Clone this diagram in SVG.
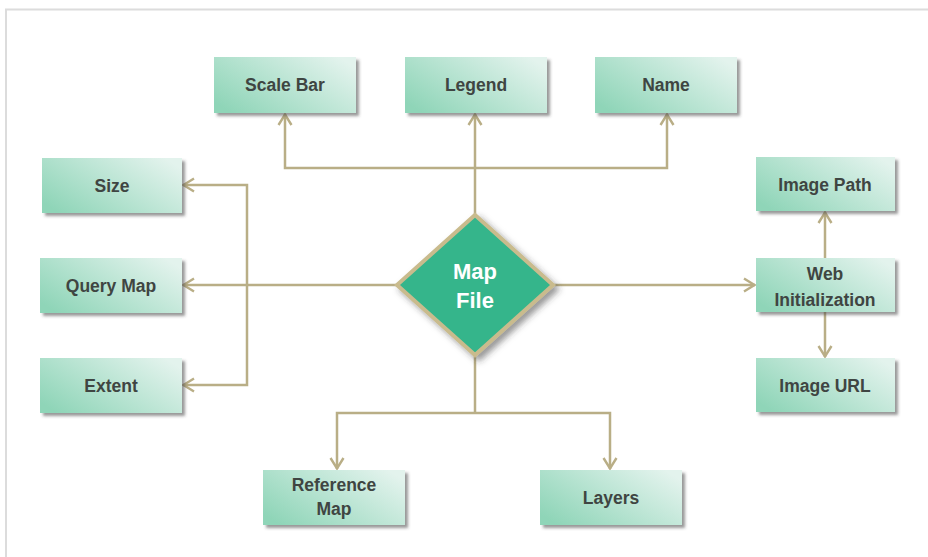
<svg xmlns="http://www.w3.org/2000/svg" width="928" height="557" viewBox="0 0 928 557">
<defs>
<linearGradient id="boxg" x1="0" y1="0.8" x2="1" y2="0.2">
<stop offset="0" stop-color="#8fd5b8"/>
<stop offset="1" stop-color="#e3f3ed"/>
</linearGradient>
<filter id="sh" x="-10%" y="-10%" width="130%" height="140%">
<feDropShadow dx="3" dy="3" stdDeviation="1.8" flood-color="#444" flood-opacity="0.55"/>
</filter>
<filter id="dsh" x="-10%" y="-10%" width="130%" height="130%">
<feDropShadow dx="4" dy="4" stdDeviation="3" flood-color="#333" flood-opacity="0.5"/>
</filter>
<marker id="arr" viewBox="0 0 14 16" refX="13" refY="8" markerWidth="14" markerHeight="16" markerUnits="userSpaceOnUse" orient="auto-start-reverse">
<path d="M2,1.5 L12.5,8 L2,14.5" fill="none" stroke="#b9ae86" stroke-width="2.4"/>
</marker>
<style>
.box{fill:url(#boxg);filter:url(#sh);}
.lbl{font-family:"Liberation Sans",Arial,sans-serif;font-size:17.5px;font-weight:bold;fill:#3f4542;text-anchor:middle;}
.dl{font-family:"Liberation Sans",Arial,sans-serif;font-size:22px;font-weight:bold;fill:#ffffff;text-anchor:middle;}
.c{fill:none;stroke:#b9ae86;stroke-width:2.5;}
</style>
</defs>
<rect x="0" y="0" width="928" height="557" fill="#ffffff"/>
<path d="M6,557 V9.5 H928" fill="none" stroke="#dcdcdc" stroke-width="2"/>

<g id="connectors">
<path class="c" d="M475,215 V114" marker-end="url(#arr)"/>
<path class="c" d="M285,114 V168 H667 V114" marker-start="url(#arr)" marker-end="url(#arr)"/>
<path class="c" d="M397,285 H183" marker-end="url(#arr)"/>
<path class="c" d="M183,185 H247 V385 H183" marker-start="url(#arr)" marker-end="url(#arr)"/>
<path class="c" d="M553,285 H755" marker-end="url(#arr)"/>
<path class="c" d="M825,258 V212" marker-end="url(#arr)"/>
<path class="c" d="M825,312 V357" marker-end="url(#arr)"/>
<path class="c" d="M475,355 V413"/>
<path class="c" d="M337,469 V413 H610 V469" marker-start="url(#arr)" marker-end="url(#arr)"/>
</g>

<g id="scale-bar"><rect class="box" x="214" y="57" width="142" height="56"/><text class="lbl" x="285" y="91">Scale Bar</text></g>
<g id="legend"><rect class="box" x="405" y="57" width="142" height="56"/><text class="lbl" x="476" y="91">Legend</text></g>
<g id="name"><rect class="box" x="595" y="57" width="142" height="56"/><text class="lbl" x="666" y="91">Name</text></g>
<g id="size"><rect class="box" x="42" y="158" width="140" height="55"/><text class="lbl" x="112" y="192">Size</text></g>
<g id="query-map"><rect class="box" x="40" y="258" width="142" height="55"/><text class="lbl" x="111" y="292">Query Map</text></g>
<g id="extent"><rect class="box" x="40" y="358" width="142" height="55"/><text class="lbl" x="111" y="392">Extent</text></g>
<g id="image-path"><rect class="box" x="756" y="157" width="139" height="54"/><text class="lbl" x="825" y="191">Image Path</text></g>
<g id="web-initialization"><rect class="box" x="756" y="258" width="139" height="54"/><text class="lbl" x="825" y="280">Web</text><text class="lbl" x="825" y="306">Initialization</text></g>
<g id="image-url"><rect class="box" x="756" y="358" width="139" height="54"/><text class="lbl" x="825" y="392">Image URL</text></g>
<g id="reference-map"><rect class="box" x="263" y="470" width="142" height="55"/><text class="lbl" x="334" y="491">Reference</text><text class="lbl" x="334" y="515">Map</text></g>
<g id="layers"><rect class="box" x="540" y="470" width="142" height="55"/><text class="lbl" x="611" y="504">Layers</text></g>

<g id="map-file">
<polygon points="475,215 553,285 475,355 397,285" fill="#34b58b" stroke="#c9bb8d" stroke-width="4" stroke-linejoin="miter" filter="url(#dsh)"/>
<text class="dl" x="475" y="279">Map</text>
<text class="dl" x="475" y="308">File</text>
</g>
</svg>
